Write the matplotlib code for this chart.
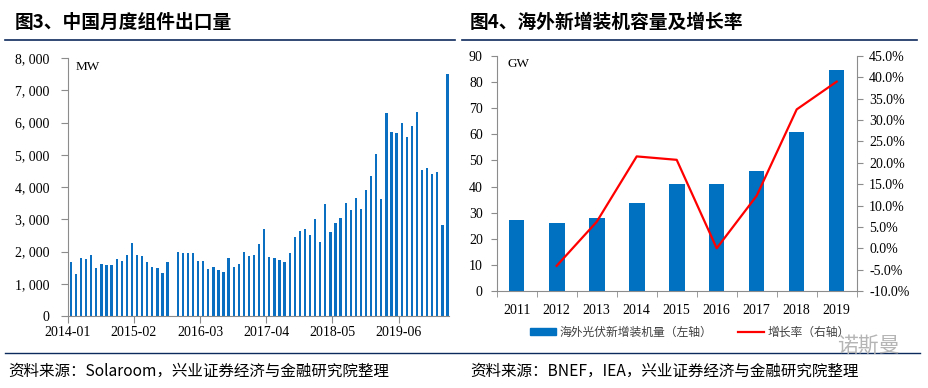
import matplotlib.pyplot as plt
import numpy as np
from matplotlib.patches import Patch
from matplotlib.lines import Line2D

plt.rcParams['font.family'] = ['Noto Sans CJK SC', 'DejaVu Sans']

# 图3 数据：2014-01 ~ 2020-03 月度组件出口量 (MW)，2015-09 缺失
export_mw = [1667, 1292, 1802, 1771, 1906, 1490, 1625, 1573, 1573, 1771, 1719, 1906,
             2250, 1885, 1854, 1667, 1521, 1490, 1344, 1688, np.nan, 1969, 1938, 1938,
             1938, 1719, 1719, 1448, 1521, 1427, 1375, 1802, 1521, 1615, 2000, 1854,
             1885, 2219, 2708, 1833, 1802, 1740, 1688, 1938, 2458, 2646, 2688, 2510,
             3021, 2292, 3469, 2615, 2896, 3031, 3500, 3292, 3656, 3313, 3906, 4344,
             5010, 3615, 6281, 5719, 5667, 6000, 5552, 5906, 6313, 4531, 4594, 4417,
             4458, 2813, 7500]
month_labels = ['2014-01', '2015-02', '2016-03', '2017-04', '2018-05', '2019-06']
left_yticks = [0, 1000, 2000, 3000, 4000, 5000, 6000, 7000, 8000]

# 图4 数据
years = ['2011', '2012', '2013', '2014', '2015', '2016', '2017', '2018', '2019']
overseas_gw = [27.2, 26.2, 27.9, 33.7, 40.8, 40.8, 45.9, 60.8, 84.7]
growth_pct = [np.nan, -4.1, 6.2, 21.5, 20.7, 0.0, 12.3, 32.5, 39.0]

W, H = 929, 388
fig = plt.figure(figsize=(W / 100, H / 100), dpi=100)

def box(x0, y0, x1, y1):
    return [x0 / W, 1 - y1 / H, (x1 - x0) / W, (y1 - y0) / H]

serif = 'Liberation Serif'
blue = '#0a6fc0'
grey = '#8c8c8c'
navy = '#0d2a5c'

# 标题与分隔线
fig.text(15 / W, 1 - 22 / H, '图3、中国月度组件出口量', fontsize=13.5, fontweight='bold',
         va='center', ha='left')
fig.text(470 / W, 1 - 22 / H, '图4、海外新增装机容量及增长率', fontsize=13.5, fontweight='bold',
         va='center', ha='left')
fig.add_artist(Line2D([5 / W, 455 / W], [1 - 40 / H] * 2, color=navy, lw=1.2))
fig.add_artist(Line2D([462 / W, 917 / W], [1 - 40 / H] * 2, color=navy, lw=1.2))
fig.add_artist(Line2D([5 / W, 920 / W], [1 - 353 / H] * 2, color=navy, lw=1.0))
fig.text(8 / W, 1 - 371 / H, '资料来源：Solaroom，兴业证券经济与金融研究院整理', fontsize=11.2,
         va='center', ha='left')
fig.text(470 / W, 1 - 371 / H, '资料来源：BNEF，IEA，兴业证券经济与金融研究院整理', fontsize=11.2,
         va='center', ha='left')
fig.text(900 / W, 1 - 346 / H, '诺斯曼', fontsize=15, color='#b5b5b5', va='center', ha='right')

# ---- 图3 ----
ax1 = fig.add_axes(box(67.7, 58, 449, 316))
x = np.arange(len(export_mw))
ax1.bar(x, export_mw, width=0.45, color=blue)
ax1.set_xlim(-0.62, 74.3)
ax1.set_ylim(0, 8000)
ax1.set_yticks(left_yticks)
ax1.set_yticklabels(['0' if v == 0 else f'{v:,}'.replace(',', ', ') for v in left_yticks],
                    family=serif, fontsize=10)
ax1.set_xticks(np.arange(0, 75, 13) - 0.62)
ax1.set_xticklabels(month_labels, family=serif, fontsize=10)
for s in ['top', 'right']:
    ax1.spines[s].set_visible(False)
for s in ['left', 'bottom']:
    ax1.spines[s].set_color(grey)
ax1.tick_params(axis='y', length=5, color=grey, pad=8)
ax1.tick_params(axis='x', length=5, color=grey, pad=2)
ax1.text(0.02, 0.965, 'MW', transform=ax1.transAxes, family=serif, fontsize=9.5,
         va='center', ha='left')

# ---- 图4 ----
ax2 = fig.add_axes(box(496.7, 56, 856.7, 291))
xi = np.arange(len(years))
ax2.bar(xi, overseas_gw, width=0.39, color='#0070c0')
ax2.set_xlim(-0.5, len(years) - 0.5)
ax2.set_ylim(0, 90)
ax2.set_yticks(range(0, 91, 10))
ax2.set_yticklabels([str(v) for v in range(0, 91, 10)], family=serif, fontsize=10)
ax2.set_xticks(xi)
ax2.set_xticklabels(years, family=serif, fontsize=10)
ax2.set_xticks(np.arange(-0.5, len(years), 1), minor=True)
ax2.tick_params(axis='x', which='major', length=0, pad=9)
ax2.tick_params(axis='x', which='minor', length=4, color=grey)
ax2.tick_params(axis='y', length=4, color=grey, pad=6)
for s in ['top', 'right']:
    ax2.spines[s].set_visible(False)
for s in ['left', 'bottom']:
    ax2.spines[s].set_color(grey)
ax2.text(0.03, 0.965, 'GW', transform=ax2.transAxes, family=serif, fontsize=9.5,
         va='center', ha='left')

ax3 = ax2.twinx()
ax3.plot(xi, growth_pct, color='#ff0000', lw=1.6)
ax3.set_ylim(-10, 45)
rt = np.arange(-10, 46, 5)
ax3.set_yticks(rt)
ax3.set_yticklabels([f'{v:.1f}%' for v in rt], family=serif, fontsize=10)
ax3.tick_params(axis='y', length=4, color=grey, pad=5)
for s in ['top', 'left', 'bottom']:
    ax3.spines[s].set_visible(False)
ax3.spines['right'].set_color(grey)

handles = [Patch(color='#0070c0'), Line2D([0], [0], color='#ff0000', lw=1.6)]
fig.legend(handles, ['海外光伏新增装机量（左轴）', '增长率（右轴）'],
           loc='center', bbox_to_anchor=(690 / W, 1 - 332 / H), ncol=2, frameon=False,
           fontsize=8.5, handlelength=2.2, handleheight=0.6, columnspacing=2.2,
           handletextpad=0.3, labelcolor='#404040')

fig.savefig('out.png', dpi=100)
